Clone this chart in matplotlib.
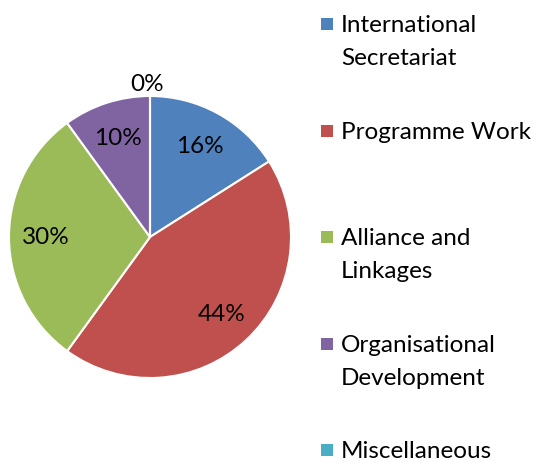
import matplotlib
matplotlib.use("Agg")
import matplotlib.pyplot as plt
import numpy as np
from matplotlib.patches import Rectangle

plt.rcParams["font.family"] = ["Lato", "DejaVu Sans"]

# data
categories = ["International Secretariat", "Programme Work", "Alliance and Linkages",
              "Organisational Development", "Miscellaneous"]
legend_labels = ["International\nSecretariat", "Programme Work", "Alliance and\nLinkages",
                 "Organisational\nDevelopment", "Miscellaneous"]
shares = [16, 44, 30, 10, 0]
colours = ["#4F81BD", "#C0504D", "#9BBB59", "#8064A2", "#4BACC6"]

W, H = 537, 464
fig = plt.figure(figsize=(W / 100, H / 100), dpi=100)
ax = fig.add_axes([0, 0, 1, 1])
ax.axis("off")

cx, cy, r = 150, H - 238, 141
wedges, _, autotexts = ax.pie(
    shares,
    colors=colours,
    startangle=90,
    counterclock=False,
    center=(cx, cy),
    radius=r,
    autopct=lambda p: f"{p:.0f}%",
    pctdistance=0.74,
    wedgeprops=dict(edgecolor="white", linewidth=1.5),
    textprops=dict(fontsize=17.5, color="black"),
)
ax.set_xlim(0, W)
ax.set_ylim(0, H)
ax.set_aspect("equal")

# empty slice: label goes outside the pie
for w, t, v in zip(wedges, autotexts, shares):
    if v == 0:
        ang = np.deg2rad(w.theta1)
        t.set_position((cx + 1.09 * r * np.cos(ang) - 3, cy + 1.09 * r * np.sin(ang)))

# legend drawn by hand so the marker sits on the first line
base0, step, line_step = 32, 106.6, 33
for i, (lab, col) in enumerate(zip(legend_labels, colours)):
    base = base0 + i * step
    ax.add_patch(Rectangle((321, H - base + 1), 12, 12, facecolor=col, edgecolor="none"))
    for j, line in enumerate(lab.split("\n")):
        ax.text(341, H - (base + j * line_step), line, fontsize=17.5,
                ha="left", va="baseline", color="black")

fig.savefig("out.png", dpi=100)
plt.close(fig)
